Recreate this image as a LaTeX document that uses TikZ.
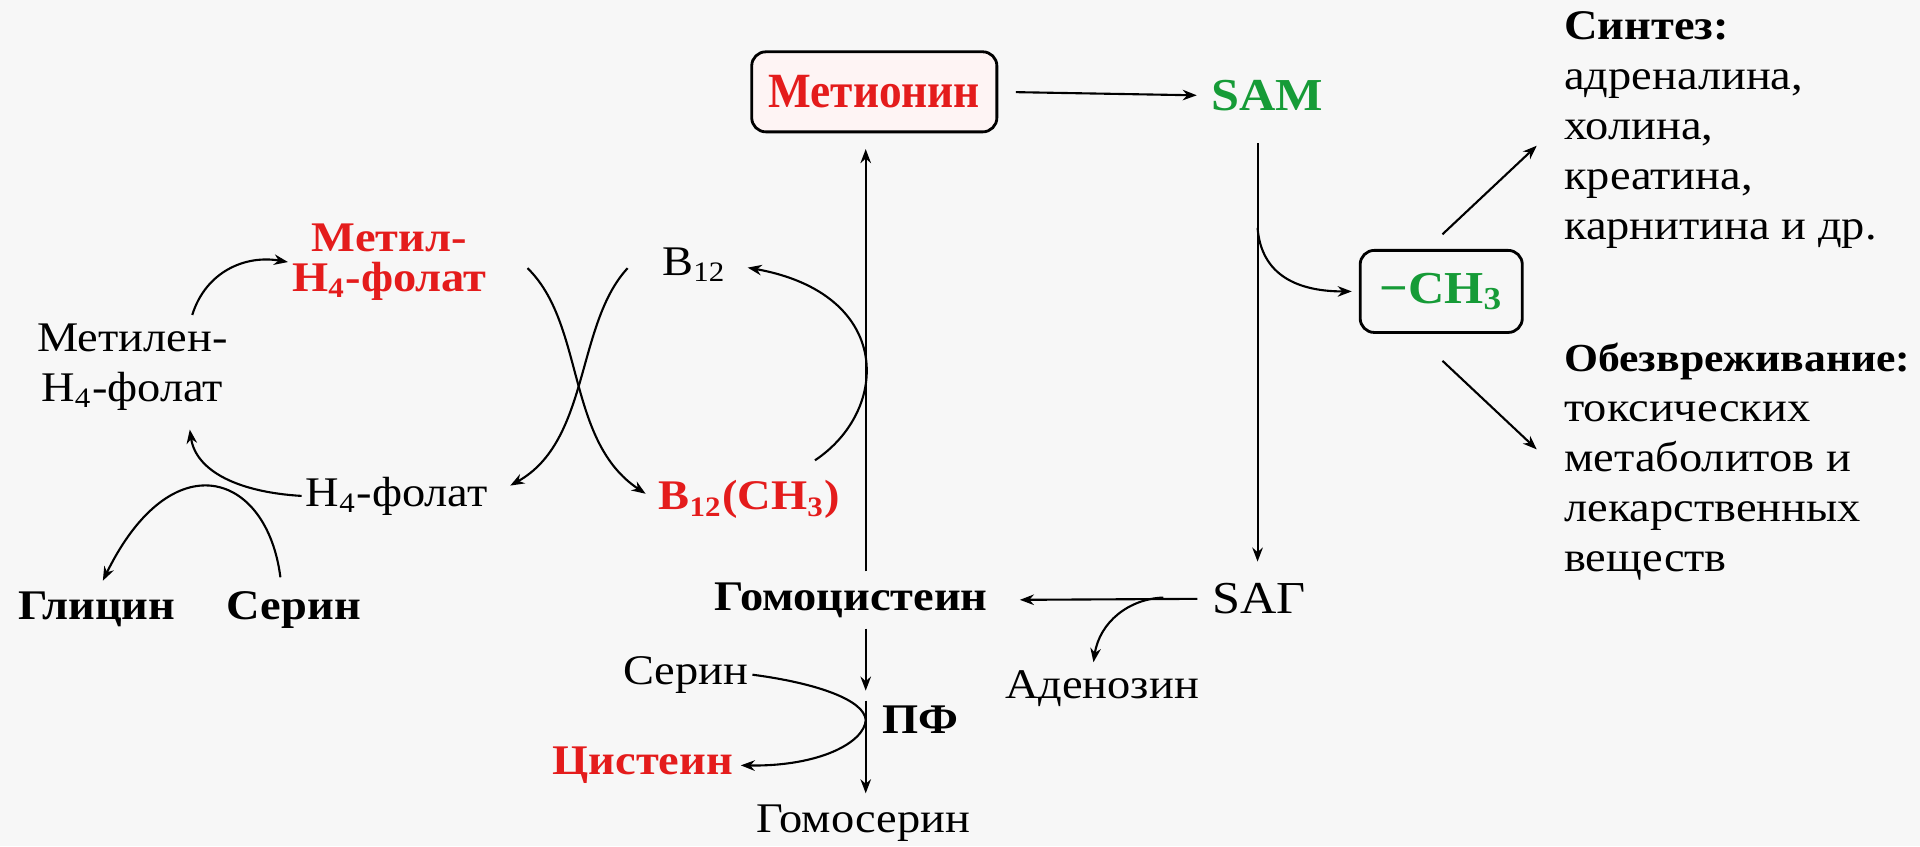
\documentclass[tikz,border=0pt]{standalone}
\usepackage{fontspec}
\setmainfont{Liberation Serif}[FakeStretch=1.1]
\newfontfamily\metfont{Liberation Serif}[FakeStretch=0.92]
\usepackage{tikz}
\usetikzlibrary{arrows.meta, positioning, calc}
\definecolor{metred}{RGB}{228, 28, 28}
\definecolor{samgreen}{RGB}{22, 155, 55}
\definecolor{paper}{RGB}{247, 247, 247}
\tikzset{
  lbl/.style={inner sep=1pt, font=\fontsize{12}{14.2}\selectfont},
  lblb/.style={inner sep=1pt, font=\fontsize{12}{14.2}\selectfont\bfseries},
  redlbl/.style={lblb, text=metred},
  greenlbl/.style={inner sep=1pt, font=\fontsize{13}{14}\selectfont\bfseries, text=samgreen},
  rbox/.style={draw, line width=0.8pt, rounded corners=4pt},
  flow/.style={->, line width=0.6pt},
}

\begin{document}
\begin{tikzpicture}[x=0.012245cm, y=-0.012245cm, >={Stealth[length=4pt,width=3pt]}]
    \fill[paper] (0,0) rectangle (1568,691);
    \useasboundingbox (0,0) rectangle (1568,691);

    % Methionine cycle
    \node[redlbl, rbox, fill=metred!5!white, minimum width=2.45cm, minimum height=0.8cm,
          font=\fontsize{14}{14}\metfont\bfseries] (met) at (714,75) {Метионин};
    \node[greenlbl] (sam) at (1035,78) {SAM};
    \node[lbl, font=\fontsize{13}{14}\selectfont] (sag) at (1028,489) {SAГ};
    \node[lblb] (hcy) at (695,490) {Гомоцистеин};
    \node[lbl] (aden) at (900,562) {Аденозин};
    \coordinate (mx) at (707,0);
    \coordinate (sx) at (1027,0);

    \draw[flow, shorten <=5pt, shorten >=3pt] (met.east) -- (sam.west);
    \draw[flow, shorten <=2pt, shorten >=4.5pt] (hcy.north -| mx) -- (met.south -| mx);
    \draw[flow, shorten <=8pt, shorten >=5pt] (sam.south -| sx) -- (sag.north -| sx);
    \draw[flow, shorten <=3pt, shorten >=8pt] (sag.west) -- (hcy.east);
    \coordinate (hbr) at (950,488);
    \draw[flow] (hbr) .. controls (922,489) and (898,508) .. ($(aden.north)+(-7,-3)$);

    % Methyl group
    \node[greenlbl, rbox, minimum width=1.62cm, minimum height=0.82cm] (ch3) at (1177,238) {−CH\textsubscript{3}};
    \coordinate (sbr) at (1027,186);
    \draw[flow, shorten >=2pt] (sbr) .. controls (1030,225) and (1060,238) .. (ch3.west);

    \node[lbl, align=left, anchor=west] (synth) at (1274,106)
        {\textbf{Синтез:}\\адреналина,\\холина,\\креатина,\\карнитина и др.};
    \node[lbl, align=left, anchor=west] (detox) at (1274,377)
        {{\fontsize{11.3}{14.2}\selectfont\bfseries Обезвреживание:}\\токсических\\метаболитов и\\лекарственных\\веществ};
    \draw[flow] ($(ch3.north)+(1,-12)$) -- ($(synth.west)+(-19,13)$);
    \draw[flow] ($(ch3.south)+(1,22)$) -- ($(detox.west)+(-19,-10)$);

    % Homocysteine to cysteine
    \node[lbl] (ser2) at (560,551) {Серин};
    \node[lblb] (pf) at (752,588) {ПФ};
    \node[redlbl] (cys) at (525,625) {Цистеин};
    \node[lbl] (hser) at (705,672) {Гомосерин};
    \coordinate (pfin) at (707,564);
    \draw[flow, shorten <=2pt] (hcy.south -| mx) -- (pfin);
    \draw[flow, shorten >=2pt] ([yshift=-0.1cm]pfin) -- (hser.north -| mx);
    \draw[flow, shorten >=1pt] (ser2.east) .. controls (668,558) and (706,572) .. (pfin |- pf)
        .. controls (706,606) and (670,626) .. (cys.east);

    % Folate cycle
    \node[redlbl, align=center, font=\fontsize{12}{11.5}\selectfont\bfseries] (mthf) at (318,214) {Метил-\\H\textsubscript{4}-фолат};
    \node[lbl] (b12) at (567,216) {B\textsubscript{12}};
    \node[lbl, align=center] (mlthf) at (108,300) {Метилен-\\H\textsubscript{4}-фолат};
    \node[lbl] (thf) at (324,405) {H\textsubscript{4}-фолат};
    \node[redlbl] (b12me) at (612,408) {B\textsubscript{12}(CH\textsubscript{3})};
    \node[lblb] (gly) at (79,498) {Глицин};
    \node[lblb] (ser) at (240,498) {Серин};

    \draw[flow] ($(mlthf.north)+(49,-4)$) .. controls (168,222) and (200,208) .. (mthf.west);
    \draw[flow] (thf.west) .. controls (195,402) and (160,385) .. ($(mlthf.south)+(47,12)$);
    \draw[flow] ($(ser.north)+(-11,-8)$) .. controls (218,385) and (140,360) .. ($(gly.north)+(5,-6)$);
    \draw[flow, shorten >=3pt] ($(mthf.east)+(30,5)$) .. controls (478,265) and (462,360) .. (b12me.west);
    \draw[flow, shorten >=6pt] ($(b12.west)+(-25,3)$) .. controls (470,265) and (482,360) .. (thf.east);
    \draw[flow, shorten >=5pt] ($(b12me.north east)+(-24,-13)$) .. controls (727,335) and (730,240) .. (b12.east);
\end{tikzpicture}
\end{document}
